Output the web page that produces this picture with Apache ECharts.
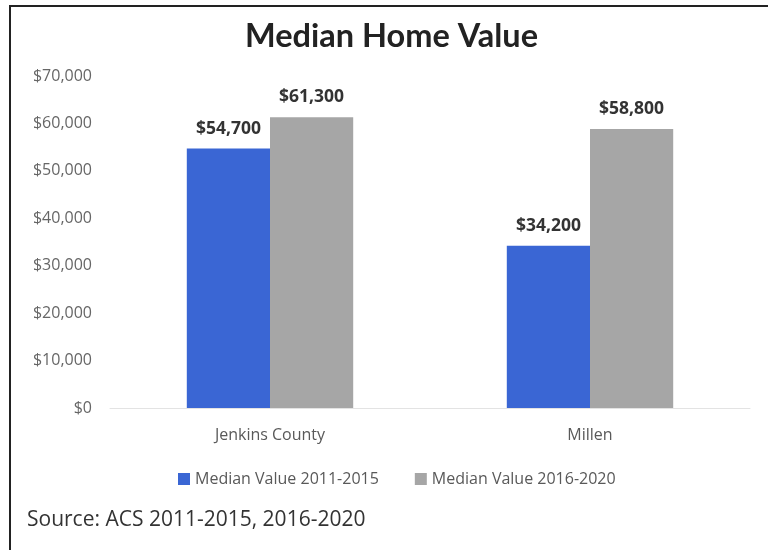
<!DOCTYPE html>
<html>
<head>
<meta charset="utf-8">
<script src="https://cdn.jsdelivr.net/npm/echarts@6/dist/echarts.min.js"></script>
<style>
html,body{margin:0;padding:0;background:#fff;}
#chart{width:768px;height:550px;}
</style>
</head>
<body>
<div id="chart"></div>
<script>
var categories = ['Jenkins County', 'Millen'];
var seriesNames = ['Median Value 2011-2015', 'Median Value 2016-2020'];
var values2011_2015 = [54700, 34200];
var values2016_2020 = [61300, 58800];
var yTicks = [0, 10000, 20000, 30000, 40000, 50000, 60000, 70000];

function money(v) {
  return '$' + Math.round(v).toString().replace(/\B(?=(\d{3})+(?!\d))/g, ',');
}

var chart = echarts.init(document.getElementById('chart'), null, {renderer: 'canvas'});
var labelStyle = {
  show: true,
  position: 'top',
  distance: 11,
  fontFamily: 'Open Sans',
  fontWeight: 'bold',
  fontSize: 17.5,
  color: '#333333',
  formatter: function (p) { return money(p.value); }
};
chart.setOption({
  backgroundColor: '#ffffff',
  animation: false,
  title: {
    text: 'Median Home Value',
    left: 240,
    top: 15,
    textStyle: {fontFamily: 'Lato', fontWeight: 'bold', fontSize: 32.5, color: '#222222'}
  },
  legend: {
    left: 173,
    top: 466,
    itemWidth: 12,
    itemHeight: 12,
    itemGap: 36,
    icon: 'rect',
    textStyle: {fontFamily: 'Open Sans', fontSize: 16, color: '#595959'},
    data: seriesNames
  },
  grid: {left: 110, right: 18, top: 76, bottom: 142, containLabel: false},
  xAxis: {
    type: 'category',
    data: categories,
    axisLine: {show: true, lineStyle: {color: '#e3e3e3', width: 1}},
    axisTick: {show: false},
    axisLabel: {margin: 19, fontFamily: 'Open Sans', fontSize: 16, color: '#595959'}
  },
  yAxis: {
    type: 'value',
    min: yTicks[0],
    max: yTicks[yTicks.length - 1],
    interval: yTicks[1] - yTicks[0],
    splitLine: {show: false},
    axisLine: {show: false},
    axisTick: {show: false},
    axisLabel: {margin: 18, fontFamily: 'Open Sans', fontSize: 16, color: '#666666', formatter: money}
  },
  series: [
    {
      name: seriesNames[0],
      type: 'bar',
      data: values2011_2015,
      barGap: '0%',
      barCategoryGap: '48%',
      itemStyle: {color: '#3a66d4'},
      label: labelStyle
    },
    {
      name: seriesNames[1],
      type: 'bar',
      data: values2016_2020,
      barGap: '0%',
      barCategoryGap: '48%',
      itemStyle: {color: '#a6a6a6'},
      label: labelStyle
    }
  ],
  graphic: [
    {
      type: 'rect',
      shape: {x: 10, y: 6, width: 800, height: 600},
      style: {fill: 'none', stroke: '#222222', lineWidth: 2},
      silent: true
    },
    {
      type: 'text',
      left: 27,
      top: 510,
      style: {text: 'Source: ACS 2011-2015, 2016-2020', fontFamily: 'Open Sans', fontSize: 21, fill: '#333333'}
    }
  ]
});
</script>
</body>
</html>
